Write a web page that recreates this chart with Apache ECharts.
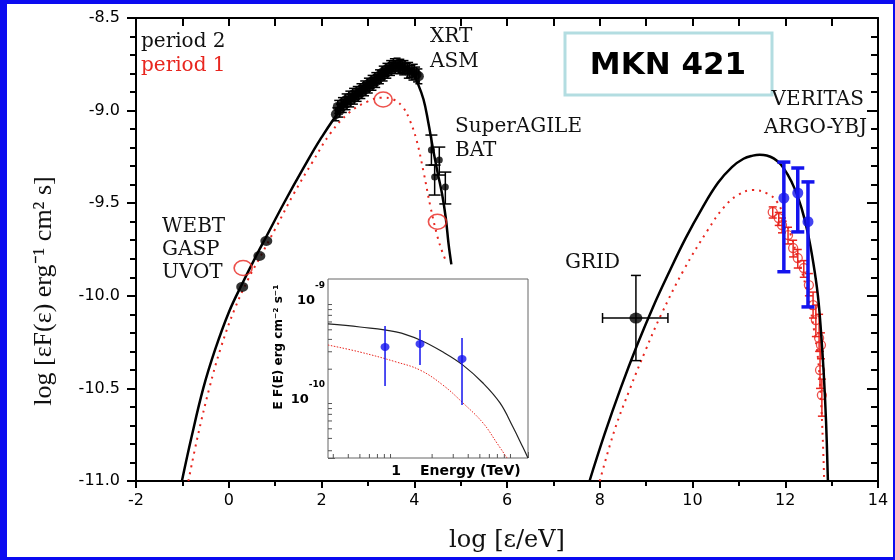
<!DOCTYPE html>
<html><head><meta charset="utf-8">
<script src="https://cdn.jsdelivr.net/npm/echarts@6/dist/echarts.min.js"></script>
<style>
html,body{margin:0;padding:0;background:#0b0bf0;overflow:hidden;}
#bg{position:absolute;left:7px;top:4px;width:886px;height:553px;background:#fff;}
#c{position:absolute;left:0;top:0;width:895px;height:560px;}
</style></head><body>
<div id="bg"></div><div id="c"></div>
<script>
// ---------- main panel data (log eps [eV], log eps F(eps)) ----------
const synchP2 = [[-1.01,-11.0],[-0.8,-10.76],[-0.55,-10.50],[-0.3,-10.295],[0.0,-10.09],[0.29,-9.935],[0.6,-9.78],[0.8,-9.685],[1.2,-9.495],[1.6,-9.315],[2.0,-9.145],[2.4,-9.0],[2.8,-8.892],[3.2,-8.815],[3.5,-8.772],[3.7,-8.762],[3.85,-8.772],[3.97,-8.80],[4.07,-8.85],[4.2,-8.94],[4.3,-9.06],[4.4,-9.20],[4.5,-9.33],[4.6,-9.45],[4.68,-9.58],[4.74,-9.72],[4.80,-9.83]];
const synchP1 = [[-0.87,-11.0],[-0.67,-10.76],[-0.42,-10.50],[-0.17,-10.28],[0.13,-10.07],[0.42,-9.91],[0.7,-9.78],[1.0,-9.64],[1.4,-9.45],[1.8,-9.28],[2.2,-9.12],[2.6,-9.01],[3.0,-8.95],[3.3,-8.93],[3.55,-8.94],[3.75,-8.98],[3.9,-9.05],[4.05,-9.16],[4.2,-9.33],[4.35,-9.52],[4.5,-9.68],[4.6,-9.76],[4.68,-9.81]];
const icP2 = [[7.78,-11.0],[8.1,-10.75],[8.45,-10.50],[8.8,-10.27],[9.15,-10.06],[9.5,-9.87],[9.85,-9.69],[10.2,-9.53],[10.55,-9.39],[10.85,-9.305],[11.1,-9.26],[11.3,-9.243],[11.45,-9.238],[11.6,-9.242],[11.75,-9.258],[11.9,-9.29],[12.05,-9.345],[12.2,-9.42],[12.35,-9.525],[12.49,-9.665],[12.6,-9.815],[12.7,-9.99],[12.77,-10.19],[12.83,-10.42],[12.88,-10.68],[12.92,-11.0]];
const icP1 = [[8.00,-11.0],[8.32,-10.725],[8.65,-10.503],[8.99,-10.293],[9.32,-10.104],[9.81,-9.861],[10.33,-9.645],[10.68,-9.521],[10.98,-9.456],[11.30,-9.429],[11.63,-9.450],[11.84,-9.499],[11.97,-9.575],[12.12,-9.672],[12.25,-9.780],[12.38,-9.888],[12.51,-10.023],[12.62,-10.185],[12.71,-10.347],[12.77,-10.563],[12.81,-10.779],[12.84,-11.0]];

const webtX = [0.29, 0.66, 0.81];
const webtY = [-9.952, -9.785, -9.704];

const redCircX = [0.31, 3.33, 4.50];
const redCircY = [-9.85, -8.94, -9.60];

const xrtX   = [2.31,2.35,2.39,2.43,2.47,2.51,2.55,2.59,2.63,2.67,2.71,2.75,2.79,2.83,2.87,2.91,2.95,2.99,3.03,3.07,3.11,3.15,3.19,3.23,3.27,3.31,3.35,3.39,3.43,3.47,3.51,3.55,3.59,3.63,3.67,3.71,3.75,3.80,3.85,3.90,3.95,4.00,4.05,4.10];
const xrtY   = [-9.02,-8.98,-9.00,-8.965,-8.975,-8.945,-8.96,-8.93,-8.945,-8.915,-8.93,-8.905,-8.915,-8.89,-8.90,-8.875,-8.885,-8.86,-8.87,-8.845,-8.855,-8.83,-8.84,-8.815,-8.82,-8.795,-8.805,-8.78,-8.79,-8.765,-8.775,-8.755,-8.765,-8.752,-8.765,-8.758,-8.772,-8.765,-8.785,-8.78,-8.795,-8.79,-8.805,-8.815];
const xrtErr = [0.035,0.035,0.035,0.035,0.035,0.035,0.035,0.035,0.035,0.035,0.035,0.035,0.035,0.035,0.035,0.035,0.035,0.035,0.035,0.035,0.035,0.035,0.035,0.035,0.035,0.035,0.035,0.035,0.035,0.035,0.035,0.035,0.035,0.035,0.035,0.035,0.035,0.035,0.04,0.04,0.04,0.04,0.04,0.04];

const batX  = [4.37, 4.54, 4.44, 4.67];
const batY  = [-9.213, -9.267, -9.359, -9.413];
const batLo = [-9.294, -9.348, -9.456, -9.504];
const batHi = [-9.132, -9.197, -9.294, -9.332];

const gridPt = [8.78, -10.12];
const gridXErr = [8.06, 9.47];
const gridYErr = [-10.35, -9.89];

const verX  = [11.97, 12.27, 12.49];
const verY  = [-9.472, -9.445, -9.60];
const verLo = [-9.87, -9.655, -10.06];
const verHi = [-9.278, -9.31, -9.385];

const argoX  = [11.73,11.86,11.93,12.06,12.17,12.27,12.40,12.51,12.60,12.66,12.73,12.77,12.75,12.79];
const argoY  = [-9.548,-9.580,-9.618,-9.672,-9.742,-9.796,-9.850,-9.942,-10.050,-10.131,-10.228,-10.266,-10.401,-10.536];
const argoLo = [-9.58,-9.62,-9.66,-9.72,-9.79,-9.85,-9.90,-10.00,-10.12,-10.22,-10.30,-10.34,-10.50,-10.65];
const argoHi = [-9.52,-9.55,-9.58,-9.63,-9.70,-9.75,-9.81,-9.88,-9.98,-10.05,-10.10,-10.20,-10.30,-10.45];

// ---------- inset data (E [TeV], E F(E) [erg cm^-2 s^-1]) ----------
const insE2 = [0.271,0.501,1.0,1.585,2.464,3.615,5.31,7.36,9.44,11.4,12.59];
const insF2 = [5.73e-10,5.34e-10,4.76e-10,3.95e-10,2.98e-10,2.20e-10,1.45e-10,9.12e-11,5.21e-11,3.27e-11,2.54e-11];
const insE1 = [0.271,0.501,1.0,1.585,2.464,3.615,5.31,6.93,8.41];
const insF1 = [3.51e-10,2.98e-10,2.37e-10,1.96e-10,1.38e-10,9.12e-11,5.73e-11,3.60e-11,2.54e-11];
const insObsE  = [0.81, 1.585, 3.55];
const insObsF  = [3.35e-10, 3.60e-10, 2.54e-10];
const insObsLo = [1.35e-10, 2.20e-10, 8.69e-11];
const insObsHi = [5.46e-10, 4.98e-10, 4.13e-10];
const insMinorX = [0.3,0.4,0.5,0.6,0.7,0.8,0.9,2,3,4,5,6,7,8,9];
const insMinorY = [3e-11,4e-11,5e-11,6e-11,7e-11,8e-11,9e-11,2e-10,3e-10,4e-10,5e-10,6e-10,7e-10,8e-10,9e-10];
const insXMin = 0.271, insXMax = 12.6, insYMin = 2.535e-11, insYMax = 1.63e-9;

// ---------- helpers ----------
const BLACK = '#000000', RED = '#e8261f', BLUE = '#1414ee';
const zip = (xs, ys) => xs.map((x, i) => [x, ys[i]]);
const err4 = (xs, ys, lo, hi) => xs.map((x, i) => [x, ys[i], lo[i], hi[i]]);
const errSym = (xs, ys, e) => xs.map((x, i) => [x, ys[i], ys[i] - e[i], ys[i] + e[i]]);

function vErr(color, lw, cap) {
  return function (params, api) {
    const x = api.value(0), lo = api.value(2), hi = api.value(3);
    const a = api.coord([x, hi]), b = api.coord([x, lo]);
    const st = { stroke: color, lineWidth: lw };
    return { type: 'group', children: [
      { type: 'line', shape: { x1: a[0], y1: a[1], x2: b[0], y2: b[1] }, style: st },
      { type: 'line', shape: { x1: a[0] - cap / 2, y1: a[1], x2: a[0] + cap / 2, y2: a[1] }, style: st },
      { type: 'line', shape: { x1: b[0] - cap / 2, y1: b[1], x2: b[0] + cap / 2, y2: b[1] }, style: st }
    ]};
  };
}
function xyErr(color, lw, cap) {
  return function (params, api) {
    const x = api.value(0), y = api.value(1);
    const lo = api.value(2), hi = api.value(3), xl = api.value(4), xh = api.value(5);
    const a = api.coord([x, hi]), b = api.coord([x, lo]);
    const l = api.coord([xl, y]), r = api.coord([xh, y]);
    const st = { stroke: color, lineWidth: lw };
    return { type: 'group', children: [
      { type: 'line', shape: { x1: a[0], y1: a[1], x2: b[0], y2: b[1] }, style: st },
      { type: 'line', shape: { x1: a[0] - cap / 2, y1: a[1], x2: a[0] + cap / 2, y2: a[1] }, style: st },
      { type: 'line', shape: { x1: b[0] - cap / 2, y1: b[1], x2: b[0] + cap / 2, y2: b[1] }, style: st },
      { type: 'line', shape: { x1: l[0], y1: l[1], x2: r[0], y2: r[1] }, style: st },
      { type: 'line', shape: { x1: l[0], y1: l[1] - cap / 2, x2: l[0], y2: l[1] + cap / 2 }, style: st },
      { type: 'line', shape: { x1: r[0], y1: r[1] - cap / 2, x2: r[0], y2: r[1] + cap / 2 }, style: st }
    ]};
  };
}

const SANS = '"DejaVu Sans", sans-serif';
const SERIF = '"DejaVu Serif", serif';

const mainAxisCommon = {
  gridIndex: 0, type: 'value', splitLine: { show: false },
  axisLine: { onZero: false, lineStyle: { color: BLACK, width: 2 } }
};

function label(t, x, y, color, align) {
  return { type: 'text', x: x, y: y, z: 50,
    style: { text: t, fill: color || '#111', font: '20px ' + SERIF, verticalAlign: 'middle', align: align || 'left' } };
}

const chart = echarts.init(document.getElementById('c'));
chart.setOption({
  animation: false,
  backgroundColor: 'transparent',
  grid: [
    { left: 136, right: 17, top: 18, bottom: 79 },
    { left: 328, top: 279, width: 200, height: 179, show: true, backgroundColor: '#fff', borderColor: '#666', borderWidth: 1, z: 3 }
  ],
  xAxis: [
    Object.assign({}, mainAxisCommon, {
      position: 'bottom', min: -2, max: 14, interval: 2,
      axisTick: { show: true, length: 7, lineStyle: { color: BLACK, width: 2 } },
      minorTick: { show: true, splitNumber: 2, length: 5, lineStyle: { color: BLACK, width: 2 } },
      axisLabel: { color: BLACK, fontFamily: SANS, fontSize: 16, margin: 12 },
      name: 'log [ε/eV]', nameLocation: 'middle', nameGap: 48,
      nameTextStyle: { color: '#111', fontFamily: SERIF, fontSize: 24 }
    }),
    Object.assign({}, mainAxisCommon, {
      position: 'top', min: -2, max: 14, interval: 2,
      axisTick: { show: true, inside: true, length: 8, lineStyle: { color: BLACK, width: 2 } },
      minorTick: { show: true, splitNumber: 2, length: 8, lineStyle: { color: BLACK, width: 2 } },
      axisLabel: { show: false }
    }),
    {
      gridIndex: 1, type: 'log', min: insXMin, max: insXMax, logBase: 10,
      splitLine: { show: false },
      axisLine: { show: false },
      axisTick: { show: true, inside: true, length: 6, lineStyle: { color: '#555', width: 1 } },
      axisLabel: { color: BLACK, fontFamily: SANS, fontWeight: 'bold', fontSize: 14, margin: 6,
        formatter: v => Math.abs(Math.log10(v)) < 0.01 ? '1' : '' }
    }
  ],
  yAxis: [
    Object.assign({}, mainAxisCommon, {
      position: 'left', min: -11, max: -8.5, interval: 0.5,
      axisTick: { show: true, length: 9, lineStyle: { color: BLACK, width: 2 } },
      minorTick: { show: true, splitNumber: 5, length: 6, lineStyle: { color: BLACK, width: 2 } },
      axisLabel: { color: BLACK, fontFamily: SANS, fontSize: 16, margin: 16, formatter: v => v.toFixed(1) }
    }),
    Object.assign({}, mainAxisCommon, {
      position: 'right', min: -11, max: -8.5, interval: 0.5,
      axisTick: { show: true, inside: true, length: 11, lineStyle: { color: BLACK, width: 2 } },
      minorTick: { show: true, splitNumber: 5, length: 7, lineStyle: { color: BLACK, width: 2 } },
      axisLabel: { show: false }
    }),
    {
      gridIndex: 1, type: 'log', min: insYMin, max: insYMax, logBase: 10,
      splitLine: { show: false },
      axisLine: { show: false },
      axisTick: { show: true, inside: true, length: 7, lineStyle: { color: '#555', width: 1 } },
      axisLabel: { color: BLACK, margin: 3, padding: [0, 0, 12, 0],
        formatter: v => {
          const e = Math.round(Math.log10(v));
          if (Math.abs(Math.log10(v) - e) > 0.01) return '';
          return '{a|10}{b|' + e + '}';
        },
        rich: {
          a: { fontFamily: SANS, fontWeight: 'bold', fontSize: 13, lineHeight: 26, verticalAlign: 'bottom', color: BLACK },
          b: { fontFamily: SANS, fontWeight: 'bold', fontSize: 9, lineHeight: 12, verticalAlign: 'top', color: BLACK }
        }
      }
    }
  ],
  series: [
    // ARGO-YBJ (period 1) error bars + open circles
    { type: 'custom', xAxisIndex: 0, yAxisIndex: 0, renderItem: vErr(RED, 1.5, 8),
      data: err4(argoX, argoY, argoLo, argoHi), encode: { x: 0, y: [1, 2, 3] }, z: 2 },
    { type: 'scatter', xAxisIndex: 0, yAxisIndex: 0, data: zip(argoX, argoY), symbol: 'circle', symbolSize: 9,
      itemStyle: { color: 'rgba(255,255,255,0)', borderColor: RED, borderWidth: 1.3 }, z: 2 },
    // model curves
    { type: 'line', xAxisIndex: 0, yAxisIndex: 0, data: synchP1, showSymbol: false, smooth: 0.4,
      lineStyle: { color: RED, width: 2, type: [2, 5] }, z: 3 },
    { type: 'line', xAxisIndex: 0, yAxisIndex: 0, data: icP1, showSymbol: false, smooth: 0.4,
      lineStyle: { color: RED, width: 2, type: [2, 5] }, z: 3 },
    { type: 'line', xAxisIndex: 0, yAxisIndex: 0, data: synchP2, showSymbol: false, smooth: 0.4,
      lineStyle: { color: BLACK, width: 2.5 }, z: 4 },
    { type: 'line', xAxisIndex: 0, yAxisIndex: 0, data: icP2, showSymbol: false, smooth: 0.4,
      lineStyle: { color: BLACK, width: 2.5 }, z: 4 },
    // red open circles (period 1, synchrotron)
    { type: 'scatter', xAxisIndex: 0, yAxisIndex: 0, data: zip(redCircX, redCircY), symbol: 'circle', symbolSize: [18, 15],
      itemStyle: { color: 'rgba(255,255,255,0)', borderColor: RED, borderWidth: 1.5 }, z: 5 },
    // XRT / ASM band
    { type: 'custom', xAxisIndex: 0, yAxisIndex: 0, renderItem: vErr(BLACK, 1.5, 7),
      data: errSym(xrtX, xrtY, xrtErr), encode: { x: 0, y: [1, 2, 3] }, z: 5 },
    { type: 'scatter', xAxisIndex: 0, yAxisIndex: 0, data: zip(xrtX, xrtY), symbol: 'circle', symbolSize: 10,
      itemStyle: { color: BLACK }, z: 5 },
    // SuperAGILE / BAT
    { type: 'custom', xAxisIndex: 0, yAxisIndex: 0, renderItem: vErr(BLACK, 1.5, 12),
      data: err4(batX, batY, batLo, batHi), encode: { x: 0, y: [1, 2, 3] }, z: 5 },
    { type: 'scatter', xAxisIndex: 0, yAxisIndex: 0, data: zip(batX, batY), symbol: 'circle', symbolSize: 7,
      itemStyle: { color: BLACK }, z: 5 },
    // WEBT / GASP / UVOT
    { type: 'scatter', xAxisIndex: 0, yAxisIndex: 0, data: zip(webtX, webtY), symbol: 'circle', symbolSize: [12, 10],
      itemStyle: { color: BLACK }, z: 5 },
    // GRID
    { type: 'custom', xAxisIndex: 0, yAxisIndex: 0, renderItem: xyErr(BLACK, 1.5, 10),
      data: [[gridPt[0], gridPt[1], gridYErr[0], gridYErr[1], gridXErr[0], gridXErr[1]]],
      encode: { x: [0, 4, 5], y: [1, 2, 3] }, z: 5 },
    { type: 'scatter', xAxisIndex: 0, yAxisIndex: 0, data: [gridPt], symbol: 'circle', symbolSize: [13, 11],
      itemStyle: { color: BLACK }, z: 5 },
    // VERITAS
    { type: 'custom', xAxisIndex: 0, yAxisIndex: 0, renderItem: vErr(BLUE, 3.5, 13),
      data: err4(verX, verY, verLo, verHi), encode: { x: 0, y: [1, 2, 3] }, z: 6 },
    { type: 'scatter', xAxisIndex: 0, yAxisIndex: 0, data: zip(verX, verY), symbol: 'circle', symbolSize: 11,
      itemStyle: { color: BLUE }, z: 6 },
    // ---------- inset ----------
    { type: 'custom', xAxisIndex: 2, yAxisIndex: 2, z: 10,
      data: insMinorX.map(v => [v, insYMin]), encode: { x: 0, y: 1 },
      renderItem: (p, api) => { const c = api.coord([api.value(0), api.value(1)]);
        return { type: 'line', shape: { x1: c[0], y1: c[1], x2: c[0], y2: c[1] - 4 }, style: { stroke: '#555', lineWidth: 1 } }; } },
    { type: 'custom', xAxisIndex: 2, yAxisIndex: 2, z: 10,
      data: insMinorY.map(v => [insXMin, v]), encode: { x: 0, y: 1 },
      renderItem: (p, api) => { const c = api.coord([api.value(0), api.value(1)]);
        return { type: 'line', shape: { x1: c[0], y1: c[1], x2: c[0] + 4, y2: c[1] }, style: { stroke: '#555', lineWidth: 1 } }; } },
    { type: 'line', xAxisIndex: 2, yAxisIndex: 2, data: zip(insE1, insF1), showSymbol: false, smooth: 0.4,
      lineStyle: { color: RED, width: 1, type: [1.5, 1.5] }, z: 10 },
    { type: 'line', xAxisIndex: 2, yAxisIndex: 2, data: zip(insE2, insF2), showSymbol: false, smooth: 0.4,
      lineStyle: { color: '#222', width: 1.2 }, z: 10 },
    { type: 'custom', xAxisIndex: 2, yAxisIndex: 2, renderItem: vErr(BLUE, 1.5, 0),
      data: err4(insObsE, insObsF, insObsLo, insObsHi), encode: { x: 0, y: [1, 2, 3] }, z: 11 },
    { type: 'scatter', xAxisIndex: 2, yAxisIndex: 2, data: zip(insObsE, insObsF), symbol: 'circle', symbolSize: [9, 8],
      itemStyle: { color: BLUE }, z: 11 }
  ],
  graphic: [
    label('period 2', 141, 42, '#111'),
    label('period 1', 141, 66, RED),
    label('XRT', 430, 37),
    label('ASM', 430, 62),
    label('SuperAGILE', 455, 127),
    label('BAT', 455, 151),
    label('WEBT', 162, 227),
    label('GASP', 162, 250),
    label('UVOT', 162, 273),
    label('GRID', 565, 263),
    label('VERITAS', 864, 100, '#111', 'right'),
    label('ARGO-YBJ', 867, 128, '#111', 'right'),
    { type: 'text', z: 41, x: 44, y: 291, rotation: Math.PI / 2,
      style: { text: 'log [εF(ε) erg⁻¹ cm² s]', fill: '#111', font: '26px "Liberation Serif", serif', align: 'center', verticalAlign: 'middle' } },
    { type: 'rect', z: 40, shape: { x: 565, y: 33, width: 207, height: 62 },
      style: { fill: '#fff', stroke: '#b3dde1', lineWidth: 3 } },
    { type: 'text', z: 41, x: 668, y: 66,
      style: { text: 'MKN 421', fill: '#000', font: 'bold 31px ' + SANS, align: 'center', verticalAlign: 'middle' } },
    { type: 'text', z: 41, x: 420, y: 471,
      style: { text: 'Energy (TeV)', fill: '#000', font: 'bold 14px ' + SANS, align: 'left', verticalAlign: 'middle' } },
    { type: 'text', z: 41, x: 279, y: 347, rotation: Math.PI / 2,
      style: { text: 'E F(E) erg cm⁻² s⁻¹', fill: '#000', font: 'bold 12px ' + SANS, align: 'center', verticalAlign: 'middle' } }
  ]
});
</script>
</body></html>
